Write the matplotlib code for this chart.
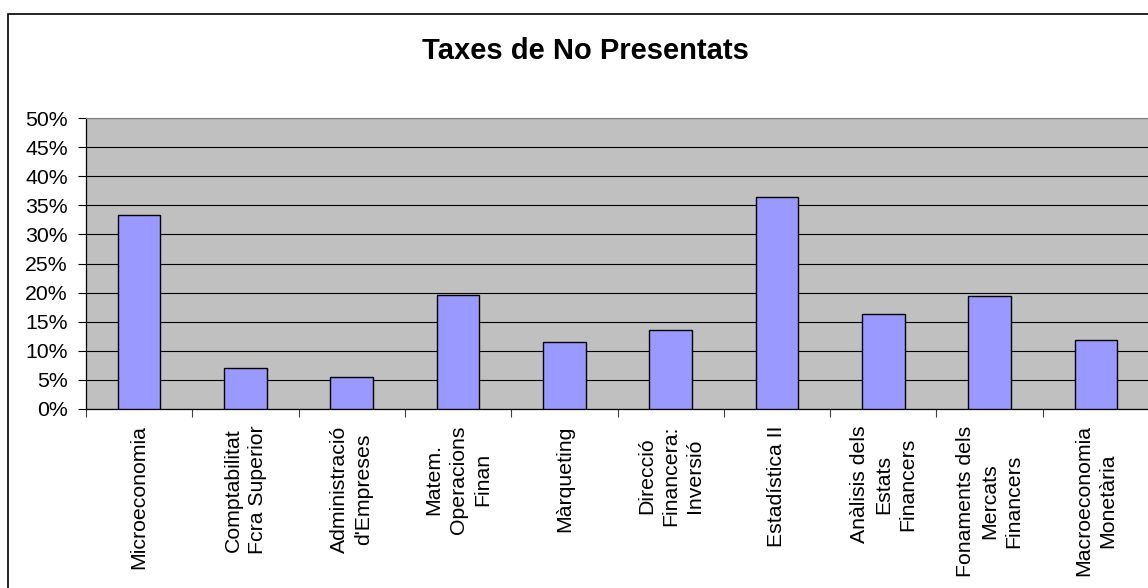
import matplotlib
matplotlib.use("Agg")
import matplotlib.pyplot as plt
from matplotlib.patches import Rectangle
from matplotlib.ticker import FixedLocator, PercentFormatter
import numpy as np

plt.rcParams['font.family'] = ['Liberation Sans', 'DejaVu Sans']

assignatures = ["Microeconomia",
                "Comptabilitat\nFcra Superior",
                "Administració\nd'Empreses",
                "Matem.\nOperacions\nFinan",
                "Màrqueting",
                "Direcció\nFinancera:\nInversió",
                "Estadística II",
                "Anàlisis dels\nEstats\nFinancers",
                "Fonaments dels\nMercats\nFinancers",
                "Macroeconomia\nMonetària"]

no_presentats = [33.3, 7.0, 5.5, 19.6, 11.4, 13.5, 36.4, 16.3, 19.4, 11.9]

W, H = 1148, 588
fig = plt.figure(figsize=(W / 100, H / 100), dpi=100)

# marc del grafic
fig.patches.append(Rectangle((7.5 / W, -0.01), 1.2, 1 - 13.5 / H + 0.01,
                             transform=fig.transFigure, fill=False,
                             edgecolor='black', linewidth=1.2))

ax = fig.add_axes([86 / W, 1 - 408.7 / H, 1063 / W, 290.4 / H])
ax.set_facecolor('#C0C0C0')

x = np.arange(len(assignatures))
ax.bar(x, no_presentats, width=0.4, color='#9999FF', edgecolor='black',
       linewidth=1.0, zorder=3)

ax.set_xlim(-0.5, len(assignatures) - 0.5)
ax.set_ylim(0, 50)
ax.set_yticks(np.arange(0, 51, 5))
ax.yaxis.set_major_formatter(PercentFormatter(decimals=0))
ax.yaxis.grid(True, color='black', linewidth=0.8, zorder=1)
ax.set_axisbelow(True)

ax.xaxis.set_major_locator(FixedLocator(np.arange(-0.5, len(assignatures), 1)))
ax.xaxis.set_major_formatter(plt.NullFormatter())
ax.xaxis.set_minor_locator(FixedLocator(x))
ax.set_xticklabels(assignatures, minor=True, rotation=90, ha='center',
                   va='top', multialignment='center', linespacing=1.35)
ax.tick_params(axis='x', which='minor', length=0, pad=12, labelsize=15.3)
ax.tick_params(axis='x', which='major', length=6, width=0.8, color='#404040')
ax.tick_params(axis='y', length=6, width=0.8, pad=7, labelsize=15.3)

ax.spines['top'].set_color('#808080')
ax.spines['right'].set_visible(False)
for s in ('left', 'bottom'):
    ax.spines[s].set_color('black')
    ax.spines[s].set_linewidth(0.9)

fig.text(585 / W, 1 - 51 / H, 'Taxes de No Presentats', ha='center',
         va='center', fontsize=21, fontweight='bold')

fig.savefig('out.png', dpi=100)
